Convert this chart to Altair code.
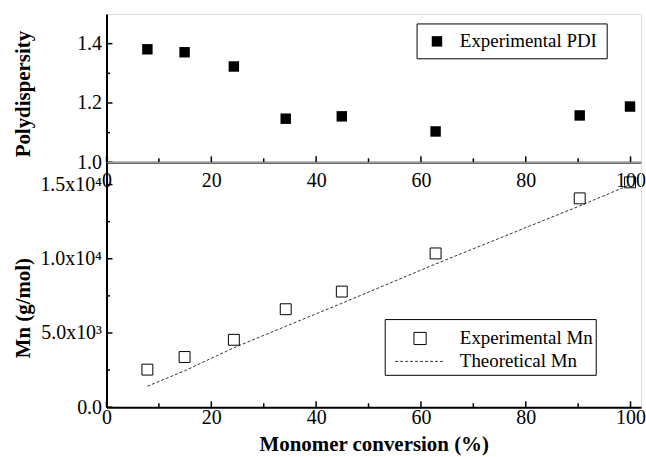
import altair as alt
import pandas as pd

# Measured data: monomer conversion (%) vs. polydispersity and molecular weight
conversion = [7.8, 14.9, 24.3, 34.2, 44.9, 62.8, 90.3, 99.9]
pdi = [1.381, 1.371, 1.323, 1.147, 1.155, 1.104, 1.158, 1.188]
mn_experimental = [2530, 3380, 4540, 6600, 7790, 10360, 14070, 15150]
mn_theoretical = [1410, 2450, 4000, 5450, 7000, 9650, 13560, 14990]

# Axis tick positions and labels
x_major = [0, 20, 40, 60, 80, 100]
x_minor = [10, 30, 50, 70, 90]
pdi_major = [1.0, 1.2, 1.4]
pdi_minor = [1.1, 1.3]
mn_major = [0, 5000, 10000, 15000]
mn_minor = [2500, 7500, 12500]
mn_labels = ["0.0", "5.0x10\u00b3", "1.0x10\u2074", "1.5x10\u2074"]

FONT = "Liberation Serif"
LABEL_SIZE = 20
LEGEND_SIZE = 19
TITLE_SIZE = 21
W, H_TOP, H_BOT = 537, 149, 246

x_scale = alt.Scale(domain=[0, 102], nice=False, zero=False)
pdi_scale = alt.Scale(domain=[1.0, 1.5], nice=False, zero=False)
mn_scale = alt.Scale(domain=[0, 16500], nice=False, zero=False)

mn_label_expr = "".join(
    f"datum.value == {v} ? '{lab}' : " for v, lab in zip(mn_major, mn_labels)
) + "''"

axis_common = dict(
    tickSize=0, domainWidth=2, domainColor="black", labelColor="black",
    labelFont=FONT, labelFontSize=LABEL_SIZE, titleFont=FONT,
    titleFontWeight="bold", titleFontSize=TITLE_SIZE, titleColor="black",
    grid=False, labelFlush=False,
)

x_axis_top = alt.Axis(values=x_major, format="d", title=None,
                      labelPadding=8, **axis_common)
y_axis_top = alt.Axis(values=pdi_major, format=".1f", title="Polydispersity",
                      titleAngle=270, titleX=-77, titleY=80,
                      titleAlign="center", titleBaseline="alphabetic",
                      labelPadding=5, **axis_common)
x_axis_bot = alt.Axis(values=x_major, format="d",
                      title="Monomer conversion (%)",
                      titleY=44, titleBaseline="alphabetic", labelPadding=0,
                      **axis_common)
y_axis_bot = alt.Axis(values=mn_major, labelExpr=mn_label_expr,
                      title="Mn (g/mol)", titleAngle=270,
                      titleX=-77, titleY=146, titleAlign="center",
                      titleBaseline="alphabetic", labelPadding=5, **axis_common)

df = pd.DataFrame({
    "conversion": conversion,
    "pdi": pdi,
    "mn_exp": mn_experimental,
    "mn_theo": mn_theoretical,
})
one_row = pd.DataFrame({"k": [0]})


def inward_x_ticks(values, length, height, scale, axis):
    return alt.Chart(pd.DataFrame({"conversion": values})).mark_rule(
        color="black", strokeWidth=1.5
    ).encode(
        x=alt.X("conversion:Q", scale=scale, axis=axis),
        y=alt.value(height),
        y2=alt.value(height - length),
    )


def inward_y_ticks(values, length, field, scale, axis):
    return alt.Chart(pd.DataFrame({field: values})).mark_rule(
        color="black", strokeWidth=1.5
    ).encode(
        y=alt.Y(f"{field}:Q", scale=scale, axis=axis),
        x=alt.value(0),
        x2=alt.value(length),
    )


# ---- upper panel: polydispersity ----
pdi_points = alt.Chart(df).mark_square(
    size=110, color="black", opacity=1
).encode(
    x=alt.X("conversion:Q", scale=x_scale, axis=x_axis_top),
    y=alt.Y("pdi:Q", scale=pdi_scale, axis=y_axis_top),
)

pdi_legend = alt.layer(
    alt.Chart(one_row).mark_rect(fill="white", stroke="black", strokeWidth=1).encode(
        x=alt.value(312), x2=alt.value(503), y=alt.value(10), y2=alt.value(45)),
    alt.Chart(one_row).mark_square(size=110, color="black", opacity=1).encode(
        x=alt.value(332), y=alt.value(27.5)),
    alt.Chart(one_row).mark_text(
        text="Experimental PDI", font=FONT, fontSize=LEGEND_SIZE, align="left",
        baseline="middle", color="black").encode(
        x=alt.value(355), y=alt.value(27.5)),
)

top = alt.layer(
    pdi_points,
    inward_x_ticks(x_major, 6, H_TOP, x_scale, x_axis_top),
    inward_x_ticks(x_minor, 4, H_TOP, x_scale, x_axis_top),
    inward_y_ticks(pdi_major, 6, "pdi", pdi_scale, y_axis_top),
    inward_y_ticks(pdi_minor, 3.5, "pdi", pdi_scale, y_axis_top),
    pdi_legend,
).properties(width=W, height=H_TOP)

# ---- lower panel: number-average molecular weight ----
mn_line = alt.Chart(df).mark_line(
    color="#333333", strokeWidth=1, strokeDash=[3, 2]
).encode(
    x=alt.X("conversion:Q", scale=x_scale, axis=x_axis_bot),
    y=alt.Y("mn_theo:Q", scale=mn_scale, axis=y_axis_bot),
)

mn_points = alt.Chart(df).mark_square(
    size=120, filled=False, color="black", strokeWidth=1, opacity=1
).encode(
    x=alt.X("conversion:Q", scale=x_scale, axis=x_axis_bot),
    y=alt.Y("mn_exp:Q", scale=mn_scale, axis=y_axis_bot),
)

mn_legend = alt.layer(
    alt.Chart(one_row).mark_rect(fill="white", stroke="black", strokeWidth=1).encode(
        x=alt.value(280), x2=alt.value(492), y=alt.value(158), y2=alt.value(214)),
    alt.Chart(one_row).mark_square(size=150, filled=False, color="black",
                                   strokeWidth=1, opacity=1).encode(
        x=alt.value(315), y=alt.value(177)),
    alt.Chart(one_row).mark_rule(color="#333333", strokeWidth=1,
                                 strokeDash=[3, 2]).encode(
        x=alt.value(290), x2=alt.value(338), y=alt.value(200)),
    alt.Chart(one_row).mark_text(
        text="Experimental Mn", font=FONT, fontSize=LEGEND_SIZE, align="left",
        baseline="middle", color="black").encode(
        x=alt.value(355), y=alt.value(177)),
    alt.Chart(one_row).mark_text(
        text="Theoretical Mn", font=FONT, fontSize=LEGEND_SIZE, align="left",
        baseline="middle", color="black").encode(
        x=alt.value(355), y=alt.value(200)),
)

bottom = alt.layer(
    mn_line,
    mn_points,
    inward_x_ticks(x_major, 6, H_BOT, x_scale, x_axis_bot),
    inward_x_ticks(x_minor, 4, H_BOT, x_scale, x_axis_bot),
    inward_y_ticks(mn_major, 6, "mn_exp", mn_scale, y_axis_bot),
    inward_y_ticks(mn_minor, 3.5, "mn_exp", mn_scale, y_axis_bot),
    mn_legend,
).properties(width=W, height=H_BOT)

chart = alt.vconcat(top, bottom, spacing=0, bounds="flush").properties(
    padding={"left": 12, "top": 12, "right": 0, "bottom": 0},
).configure_view(stroke="black", strokeWidth=1).configure(background="white")

chart.save("out.html", embed_options={"renderer": "svg", "actions": False})
